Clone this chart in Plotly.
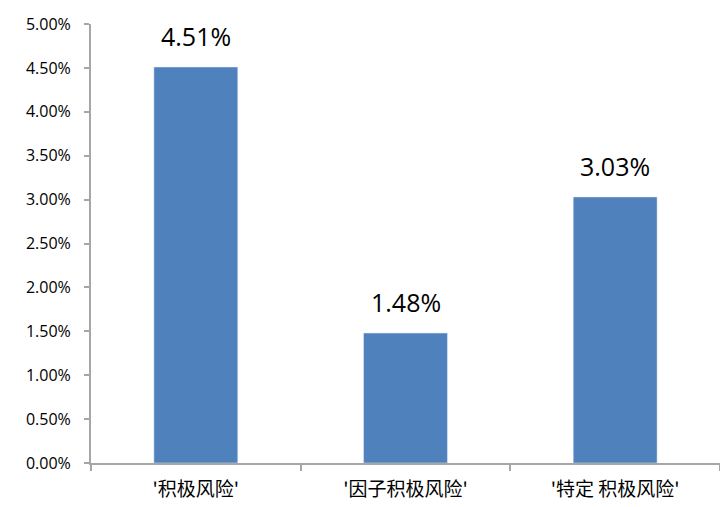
import plotly.graph_objects as go

categories = ["'积极风险'", "'因子积极风险'", "'特定 积极风险'"]
values = [0.0451, 0.0148, 0.0303]
labels = ["4.51%", "1.48%", "3.03%"]

fig = go.Figure(go.Bar(
    x=categories, y=values,
    marker_color="#4F81BD", cliponaxis=False,
))
for c, v, t in zip(categories, values, labels):
    fig.add_annotation(x=c, y=v, text=t, showarrow=False, yanchor="bottom",
                       yshift=12, font=dict(size=25, color="#000000",
                                            family="Open Sans, sans-serif"))
fig.update_layout(
    width=720, height=507,
    margin=dict(l=91, r=0, t=24, b=44),
    plot_bgcolor="white", paper_bgcolor="white",
    bargap=0.6, showlegend=False,
    font=dict(family="Open Sans, sans-serif", color="#000000"),
)
fig.update_yaxes(
    range=[0, 0.05], dtick=0.005, tickformat=".2%",
    showgrid=False, showline=True, linecolor="#A6A6A6", linewidth=2,
    ticks="outside", ticklen=5, tickcolor="#A6A6A6", tickwidth=2,
    tickfont=dict(size=16), zeroline=False, ticklabelstandoff=10,
)
fig.update_xaxes(
    showline=True, linecolor="#A6A6A6", linewidth=2,
    ticks="outside", ticklen=6, tickcolor="#A6A6A6", tickwidth=2,
    tickson="boundaries", ticklabelstandoff=8,
    tickfont=dict(size=19, family="Noto Sans CJK SC"),
)
fig.write_html("out.html", config={"displayModeBar": False},
               post_script="document.body.style.margin='0';")
